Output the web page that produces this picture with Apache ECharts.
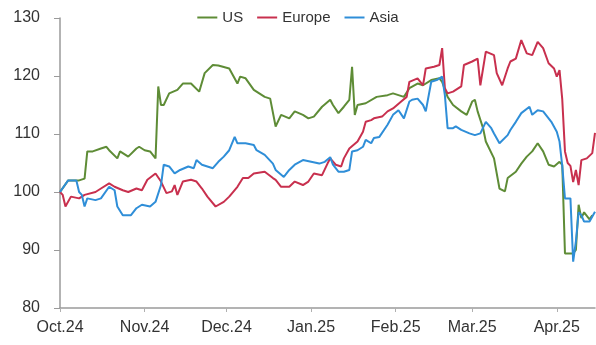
<!DOCTYPE html>
<html>
<head>
<meta charset="utf-8">
<script src="https://cdn.jsdelivr.net/npm/echarts@6/dist/echarts.min.js"></script>
<style>
  html, body { margin: 0; padding: 0; background: #fff; }
  #chart { width: 596px; height: 345px; }
</style>
</head>
<body>
<div id="chart"></div>
<script>
// Equity index performance, rebased to 100 on 1 Oct 2024
const seriesNames = ['US', 'Europe', 'Asia'];

const monthTicks = ['2024-10-01', '2024-11-01', '2024-12-01', '2025-01-01', '2025-02-01', '2025-03-01', '2025-04-01'];
const monthLabels = ['Oct.24', 'Nov.24', 'Dec.24', 'Jan.25', 'Feb.25', 'Mar.25', 'Apr.25'];
const yTicks = [80, 90, 100, 110, 120, 130];

const usData = [
  ['2024-10-01',100.0],['2024-10-04',102.0],['2024-10-08',102.0],['2024-10-10',102.3],
  ['2024-10-11',107.0],['2024-10-13',107.0],['2024-10-16',107.5],['2024-10-18',107.8],
  ['2024-10-19',107.2],['2024-10-22',105.8],['2024-10-23',107.0],['2024-10-26',106.1],
  ['2024-10-29',107.5],['2024-10-30',107.8],['2024-11-01',107.2],['2024-11-03',107.0],
  ['2024-11-05',105.8],['2024-11-06',118.2],['2024-11-07',115.0],['2024-11-08',115.0],
  ['2024-11-10',117.0],['2024-11-13',117.6],['2024-11-15',118.7],['2024-11-18',118.7],
  ['2024-11-21',117.3],['2024-11-23',120.5],['2024-11-26',121.9],['2024-11-28',121.8],
  ['2024-12-02',121.3],['2024-12-05',118.7],['2024-12-06',119.9],['2024-12-08',119.6],
  ['2024-12-11',117.6],['2024-12-15',116.4],['2024-12-17',116.1],['2024-12-19',111.3],
  ['2024-12-21',113.3],['2024-12-24',112.7],['2024-12-26',113.9],['2024-12-29',113.3],
  ['2024-12-31',112.7],['2025-01-02',113.0],['2025-01-05',114.7],['2025-01-08',115.9],
  ['2025-01-09',115.0],['2025-01-11',113.6],['2025-01-13',114.7],['2025-01-15',115.9],
  ['2025-01-16',121.6],['2025-01-17',113.3],['2025-01-18',115.0],['2025-01-21',115.3],
  ['2025-01-25',116.4],['2025-01-29',116.7],['2025-01-31',117.0],['2025-02-04',116.4],
  ['2025-02-06',117.9],['2025-02-09',118.7],['2025-02-11',118.4],['2025-02-14',119.3],
  ['2025-02-17',119.6],['2025-02-18',119.0],['2025-02-20',116.4],['2025-02-22',115.0],
  ['2025-02-25',113.9],['2025-02-27',113.3],['2025-03-01',115.6],['2025-03-02',115.9],
  ['2025-03-03',113.9],['2025-03-05',111.0],['2025-03-06',108.7],['2025-03-09',105.8],
  ['2025-03-11',100.6],['2025-03-13',100.1],['2025-03-14',102.4],['2025-03-17',103.5],
  ['2025-03-19',104.9],['2025-03-21',106.1],['2025-03-23',107.0],['2025-03-25',108.4],
  ['2025-03-27',107.0],['2025-03-29',104.7],['2025-03-31',104.4],['2025-04-02',105.2],
  ['2025-04-03',104.7],['2025-04-04',89.4],['2025-04-07',89.4],['2025-04-08',90.0],
  ['2025-04-09',97.8],['2025-04-10',95.5],['2025-04-11',96.5],['2025-04-13',95.3],
  ['2025-04-14',96.0]
];

const europeData = [
  ['2024-10-01',100.0],['2024-10-02',99.5],['2024-10-03',97.5],['2024-10-05',99.2],
  ['2024-10-08',98.9],['2024-10-10',99.5],['2024-10-14',100.0],['2024-10-16',100.6],
  ['2024-10-19',101.5],['2024-10-21',100.9],['2024-10-24',100.3],['2024-10-26',100.0],
  ['2024-10-29',100.6],['2024-10-31',100.3],['2024-11-02',102.1],['2024-11-05',103.2],
  ['2024-11-07',101.8],['2024-11-09',99.8],['2024-11-11',100.1],['2024-11-12',101.2],
  ['2024-11-13',99.5],['2024-11-15',101.8],['2024-11-18',102.1],['2024-11-20',101.8],
  ['2024-11-22',100.6],['2024-11-24',99.2],['2024-11-27',97.5],['2024-11-30',98.3],
  ['2024-12-02',99.2],['2024-12-05',100.9],['2024-12-07',102.4],['2024-12-09',102.4],
  ['2024-12-11',103.2],['2024-12-15',103.5],['2024-12-18',102.4],['2024-12-19',102.1],
  ['2024-12-21',100.9],['2024-12-24',100.9],['2024-12-26',101.8],['2024-12-29',101.2],
  ['2024-12-31',101.8],['2025-01-02',103.2],['2025-01-05',102.9],['2025-01-07',104.9],
  ['2025-01-08',105.8],['2025-01-10',104.7],['2025-01-12',104.4],['2025-01-13',105.8],
  ['2025-01-15',107.5],['2025-01-18',108.7],['2025-01-20',110.4],['2025-01-21',112.1],
  ['2025-01-23',112.4],['2025-01-24',112.7],['2025-01-27',113.0],['2025-01-29',113.9],
  ['2025-01-31',114.4],['2025-02-03',115.6],['2025-02-05',116.4],['2025-02-06',119.0],
  ['2025-02-09',119.6],['2025-02-11',118.4],['2025-02-12',121.3],['2025-02-15',121.6],
  ['2025-02-17',121.9],['2025-02-18',124.8],['2025-02-19',117.9],['2025-02-20',117.0],
  ['2025-02-22',117.3],['2025-02-25',118.2],['2025-02-26',121.9],['2025-03-01',122.5],
  ['2025-03-03',123.0],['2025-03-04',118.4],['2025-03-06',124.2],['2025-03-09',123.6],
  ['2025-03-10',120.5],['2025-03-12',118.4],['2025-03-14',121.3],['2025-03-15',122.5],
  ['2025-03-17',123.0],['2025-03-19',126.2],['2025-03-21',123.9],['2025-03-23',123.6],
  ['2025-03-25',125.9],['2025-03-27',124.8],['2025-03-29',122.2],['2025-03-31',121.3],
  ['2025-04-01',119.9],['2025-04-02',121.0],['2025-04-03',116.0],['2025-04-04',107.0],
  ['2025-04-05',105.0],['2025-04-06',104.5],['2025-04-07',101.7],['2025-04-08',103.8],
  ['2025-04-09',101.2],['2025-04-10',105.5],['2025-04-12',105.8],['2025-04-14',106.7],
  ['2025-04-15',110.2]
];

const asiaData = [
  ['2024-10-01',100.0],['2024-10-04',102.0],['2024-10-07',102.0],['2024-10-08',100.0],
  ['2024-10-09',99.5],['2024-10-10',97.5],['2024-10-11',98.9],['2024-10-14',98.6],
  ['2024-10-16',98.9],['2024-10-19',100.9],['2024-10-21',100.3],['2024-10-22',97.5],
  ['2024-10-24',96.0],['2024-10-27',96.0],['2024-10-29',97.2],['2024-10-31',97.8],
  ['2024-11-03',97.5],['2024-11-05',98.3],['2024-11-07',101.2],['2024-11-08',104.7],
  ['2024-11-10',104.4],['2024-11-12',103.2],['2024-11-14',103.8],['2024-11-17',104.4],
  ['2024-11-19',104.1],['2024-11-20',105.5],['2024-11-22',104.7],['2024-11-24',104.4],
  ['2024-11-26',104.1],['2024-11-28',105.2],['2024-11-30',106.1],['2024-12-02',107.2],
  ['2024-12-04',109.5],['2024-12-05',108.4],['2024-12-08',108.4],['2024-12-11',108.1],
  ['2024-12-12',107.2],['2024-12-15',106.4],['2024-12-18',104.9],['2024-12-19',103.8],
  ['2024-12-22',102.6],['2024-12-24',103.8],['2024-12-26',104.7],['2024-12-29',105.5],
  ['2025-01-01',105.2],['2025-01-04',104.9],['2025-01-06',105.2],['2025-01-08',106.0],
  ['2025-01-09',104.7],['2025-01-11',103.5],['2025-01-13',103.5],['2025-01-15',103.8],
  ['2025-01-16',107.0],['2025-01-18',107.2],['2025-01-20',107.8],['2025-01-21',109.0],
  ['2025-01-23',108.4],['2025-01-24',109.3],['2025-01-26',109.5],['2025-01-29',111.6],
  ['2025-01-31',113.3],['2025-02-02',114.1],['2025-02-04',112.7],['2025-02-06',115.6],
  ['2025-02-07',115.9],['2025-02-09',116.1],['2025-02-11',115.0],['2025-02-12',113.9],
  ['2025-02-14',119.0],['2025-02-16',119.3],['2025-02-18',119.9],['2025-02-19',116.7],
  ['2025-02-20',111.0],['2025-02-22',111.0],['2025-02-23',111.3],['2025-02-25',110.7],
  ['2025-02-28',110.1],['2025-03-02',109.8],['2025-03-04',110.1],['2025-03-06',112.1],
  ['2025-03-08',111.0],['2025-03-09',110.1],['2025-03-11',108.4],['2025-03-14',109.8],
  ['2025-03-15',110.7],['2025-03-17',112.1],['2025-03-19',113.6],['2025-03-22',114.7],
  ['2025-03-23',113.3],['2025-03-25',114.1],['2025-03-27',113.9],['2025-03-28',113.3],
  ['2025-03-30',112.1],['2025-04-01',110.4],['2025-04-02',108.7],['2025-04-03',104.5],
  ['2025-04-04',98.9],['2025-04-06',98.9],['2025-04-07',88.0],['2025-04-08',91.5],
  ['2025-04-09',96.5],['2025-04-10',96.0],['2025-04-11',94.9],['2025-04-13',94.9],
  ['2025-04-15',96.6]
];

const colors = ['#5e8c36', '#c8304e', '#2f8ed8'];

// Dates are placed on a numeric (millisecond) axis so month ticks can be set explicitly
const toTime = s => echarts.time.parse(s).getTime();
const tickTimes = monthTicks.map(toTime);

const chart = echarts.init(document.getElementById('chart'), null, { renderer: 'canvas' });

const lineSeries = [usData, europeData, asiaData].map((d, i) => ({
  name: seriesNames[i],
  type: 'line',
  data: d.map(p => [toTime(p[0]), p[1]]),
  showSymbol: false,
  symbol: 'none',
  lineStyle: { width: 2, color: colors[i] },
  itemStyle: { color: colors[i] },
  z: 2 + i
}));

chart.setOption({
  animation: false,
  backgroundColor: '#ffffff',
  color: colors,
  textStyle: { fontFamily: 'Liberation Sans, Arial, sans-serif' },
  legend: {
    top: 5,
    left: 'center',
    data: seriesNames,
    icon: 'rect',
    itemWidth: 20,
    itemHeight: 2,
    itemGap: 14,
    textStyle: { fontSize: 15, color: '#333' }
  },
  grid: { left: 60, right: 1, top: 18, bottom: 37, containLabel: false },
  xAxis: {
    type: 'value',
    min: toTime('2024-10-01'),
    max: toTime('2025-04-15'),
    axisLine: { lineStyle: { color: '#9a9a9a', width: 1.5 } },
    axisTick: { show: true, length: 4, customValues: tickTimes, lineStyle: { color: '#b0b0b0' } },
    splitLine: { show: false },
    axisLabel: {
      customValues: tickTimes,
      margin: 12,
      fontSize: 16,
      color: '#333',
      formatter: v => {
        const k = tickTimes.indexOf(v);
        return k >= 0 ? monthLabels[k] : '';
      }
    }
  },
  yAxis: {
    type: 'value',
    min: yTicks[0],
    max: yTicks[yTicks.length - 1],
    interval: 10,
    axisLine: { show: true, lineStyle: { color: '#9a9a9a', width: 1.5 } },
    axisTick: { show: true, length: 6, lineStyle: { color: '#9a9a9a' } },
    splitLine: { show: false },
    axisLabel: { margin: 20, fontSize: 16, color: '#333' }
  },
  series: lineSeries
});
</script>
</body>
</html>
